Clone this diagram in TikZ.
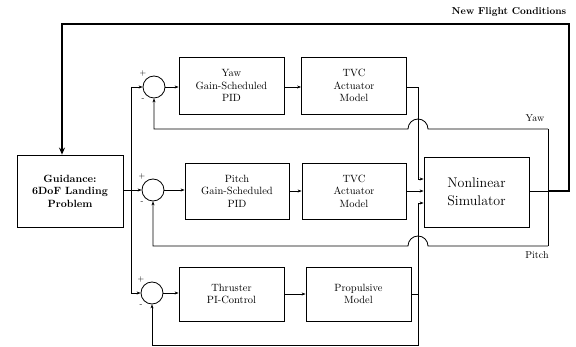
\documentclass[tikz,border=0pt]{standalone}
\usepackage{amsmath}
\usepackage{tikz}
\usetikzlibrary{arrows.meta,calc}

\begin{document}
\begin{tikzpicture}[
    >={Stealth[length=4pt,width=3pt]},
    x=1pt, y=-1pt,
    block/.style={draw, thick, minimum width=105pt, minimum height=56pt,
        align=center, font=\fontsize{10.5}{12.5}\selectfont},
    sumnode/.style={draw, thick, circle, minimum size=22pt, inner sep=0pt},
    sig/.style={thick},
    sgn/.style={font=\fontsize{8}{9}\selectfont, inner sep=0pt}
]

    \useasboundingbox (0,0) rectangle (576,347);

    % Blocs
    \node[block, minimum width=106pt, minimum height=72pt,
        font=\bfseries\fontsize{10.5}{12.5}\selectfont] (guid) at (70,191)
        {Guidance:\\6DoF Landing\\Problem};

    \node[sumnode] (sumyaw) at (154,87) {};
    \node[sumnode] (sumpitch) at (153,190) {};
    \node[sumnode] (sumthr) at (152,293) {};

    \node[block, minimum height=57pt] (yawpid) at (231.5,85.5) {Yaw\\Gain-Scheduled\\PID};
    \node[block, minimum height=57pt] (yawtvc) at (354,85.5) {TVC\\Actuator\\Model};
    \node[block, minimum width=104pt] (pitchpid) at (237,191) {Pitch\\Gain-Scheduled\\PID};
    \node[block, minimum width=104pt] (pitchtvc) at (354,191) {TVC\\Actuator\\Model};
    \node[block, minimum height=54pt] (thrpi) at (231.5,294) {Thruster\\PI-Control};
    \node[block, minimum height=54pt] (prop) at (358.5,294) {Propulsive\\Model};
    \node[block, minimum height=70pt,
        font=\fontsize{14}{18}\selectfont] (sim) at (476.5,192) {Nonlinear\\Simulator};

    % Signes
    \node[sgn] (pyaw) at (143,74) {+};
    \node[sgn] (myaw) at (143,100) {-};
    \node[sgn] (ppitch) at (142,177) {+};
    \node[sgn] (mpitch) at (142,203) {-};
    \node[sgn] (pthr) at (141,280) {+};
    \node[sgn] (mthr) at (141,306) {-};

    % Punts de pas
    \coordinate (dtop) at (131,87);
    \coordinate (dbot) at (131,293);
    \coordinate (jyaw) at (418,87);
    \coordinate (jthr) at (418,294);
    \coordinate (fyaw) at (548,129);
    \coordinate (fpitch) at (548,246);
    \coordinate (fthr) at (418,345.5);
    \coordinate (lr) at (569,191);
    \coordinate (lt) at (569,24);
    \coordinate (ll) at (62,24);

    % Referencies
    \draw[sig] (dtop) -- (dbot);
    \draw[sig, ->] (dtop) -- (sumyaw.west);
    \draw[sig, ->] (guid.east |- sumpitch) -- (sumpitch.west);
    \draw[sig, ->] (dbot) -- (sumthr.west);

    % Cadena directa
    \draw[sig, ->] (sumyaw.east) -- (yawpid.west |- sumyaw);
    \draw[sig, ->] (yawpid.east |- sumyaw) -- (yawtvc.west |- sumyaw);
    \draw[sig, ->] (sumpitch.east) -- (pitchpid.west |- sumpitch);
    \draw[sig, ->] (pitchpid.east) -- (pitchtvc.west);
    \draw[sig, ->] (sumthr.east) -- (thrpi.west |- sumthr);
    \draw[sig, ->] (thrpi.east) -- (prop.west);

    \draw[sig, ->] (yawtvc.east |- jyaw) -- (jyaw) -- (jyaw |- 0,179) -- (sim.west |- 0,179);
    \draw[sig, ->] (pitchtvc.east) -- (sim.west |- pitchtvc);
    \draw[sig, ->] (prop.east) -- (jthr) -- (jthr |- 0,203) -- (sim.west |- 0,203);

    % Realimentacio
    \draw[sig] (fyaw) -- (fpitch);
    \draw[sig, ->] (fyaw) -- (428,129) arc[start angle=0, end angle=-180, radius=10]
        -- (sumyaw.south |- fyaw) -- (sumyaw.south);
    \draw[sig, ->] (fpitch) -- (428,246) arc[start angle=0, end angle=-180, radius=10]
        -- (sumpitch.south |- fpitch) -- (sumpitch.south);
    \draw[sig, ->] (jthr) -- (fthr) -- (sumthr.south |- fthr) -- (sumthr.south);
    \draw[sig] (sim.east |- lr) -- (fyaw |- lr);

    % Noves condicions de vol
    \draw[
        line width=2.2pt,
        -{Stealth[length=7pt,width=6pt]}
    ] (fyaw |- lr) -- (lr) -- (lt) -- (ll) -- (ll |- guid.north);

    % Etiquetes
    \node[font=\fontsize{10}{12}\selectfont] (lyaw) at (535,118) {Yaw};
    \node[font=\fontsize{10}{12}\selectfont] (lpitch) at (537,255) {Pitch};
    \node[font=\bfseries\fontsize{10}{12}\selectfont] (lnew) at (509,12) {New Flight Conditions};

\end{tikzpicture}
\end{document}
